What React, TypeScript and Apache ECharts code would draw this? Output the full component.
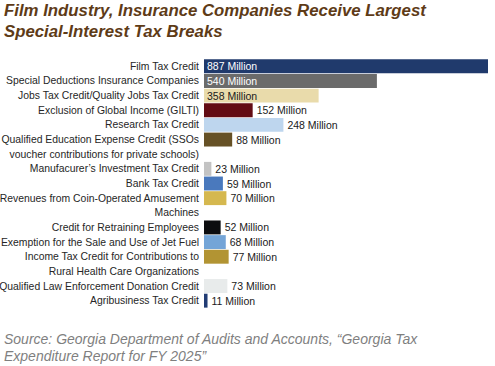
import React, { useEffect, useRef } from "react";
import * as echarts from "echarts";

const titleText = "Film Industry, Insurance Companies Receive Largest\nSpecial-Interest Tax Breaks";
const sourceText = "Source: Georgia Department of Audits and Accounts, \u201cGeorgia Tax\nExpenditure Report for FY 2025\u201d";

const programs: string[] = [
  "Film Tax Credit",
  "Special Deductions Insurance Companies",
  "Jobs Tax Credit/Quality Jobs Tax Credit",
  "Exclusion of Global Income (GILTI)",
  "Research Tax Credit",
  "Qualified Education Expense Credit (SSOs\nvoucher contributions for private schools)",
  "Manufacurer\u2019s Investment Tax Credit",
  "Bank Tax Credit",
  "Revenues from Coin-Operated Amusement\nMachines",
  "Credit for Retraining Employees",
  "Exemption for the Sale and Use of Jet Fuel",
  "Income Tax Credit for Contributions to\nRural Health Care Organizations",
  "Qualified Law Enforcement Donation Credit",
  "Agribusiness Tax Credit",
];

const valuesMillions: number[] = [887, 540, 358, 152, 248, 88, 23, 59, 70, 52, 68, 77, 73, 11];

const barColors: string[] = [
  "#203a6c",
  "#6b6b6b",
  "#e9dbab",
  "#630c14",
  "#bed6ee",
  "#665126",
  "#c3c3c3",
  "#4a79bd",
  "#d5b84f",
  "#0c0d0f",
  "#74a5d7",
  "#b29433",
  "#e8ebeb",
  "#213c74",
];

// label drawn inside the bar (with its text colour), otherwise to the right
const insideLabelColors: (string | null)[] = [
  "#ffffff", "#ffffff", "#1a1a1a", null, null, null, null, null, null, null, null, null, null, null,
];

export default function App() {
  const ref = useRef<HTMLDivElement>(null);

  useEffect(() => {
    document.body.style.margin = "0";
    if (!ref.current) return;
    const chart = echarts.init(ref.current, undefined, { renderer: "svg" });

    const slotLabels: string[] = [];
    const slotData: any[] = [];
    programs.forEach((name, i) => {
      const lines = name.split("\n");
      lines.forEach((line, j) => {
        slotLabels.push(line);
        if (j === 0) {
          const inside = insideLabelColors[i];
          slotData.push({
            value: valuesMillions[i],
            itemStyle: { color: barColors[i] },
            label: inside
              ? { position: "insideLeft", distance: 3, color: inside }
              : { position: "right", distance: 4, color: "#1a1a1a" },
          });
        } else {
          slotData.push("-");
        }
      });
    });
    const slotIds = slotLabels.map((_, k) => "s" + k);

    chart.setOption({
      animation: false,
      title: [
        {
          text: titleText,
          left: 4,
          top: 0,
          padding: 0,
          textStyle: {
            fontFamily: "Liberation Sans, Arial, sans-serif",
            fontSize: 16.8,
            fontWeight: "bold",
            fontStyle: "italic",
            color: "#5e3b17",
            lineHeight: 21,
          },
        },
        {
          text: sourceText,
          left: 4,
          top: 330,
          padding: 0,
          textStyle: {
            fontFamily: "Liberation Sans, Arial, sans-serif",
            fontSize: 14,
            fontWeight: "normal",
            fontStyle: "italic",
            color: "#7f7f7f",
            lineHeight: 17,
          },
        },
      ],
      grid: { left: 204, right: 7, top: 59, bottom: 58, containLabel: false, outerBoundsMode: "none" },
      xAxis: {
        type: "value",
        min: 0,
        max: 887,
        show: false,
      },
      yAxis: {
        type: "category",
        inverse: true,
        data: slotIds,
        axisLine: { show: false },
        axisTick: { show: false },
        axisLabel: {
          margin: 5,
          fontFamily: "Liberation Sans, Arial, sans-serif",
          fontSize: 10.4,
          color: "#262626",
          formatter: (_v: string, idx: number) => slotLabels[idx],
        },
      },
      series: [
        {
          type: "bar",
          data: slotData,
          barCategoryGap: "5%",
          label: {
            show: true,
            fontFamily: "Liberation Sans, Arial, sans-serif",
            fontSize: 10.5,
            formatter: (p: any) => p.value + " Million",
          },
        },
      ],
    });
    return () => chart.dispose();
  }, []);

  return <div ref={ref} style={{ width: 495, height: 366 }} />;
}
